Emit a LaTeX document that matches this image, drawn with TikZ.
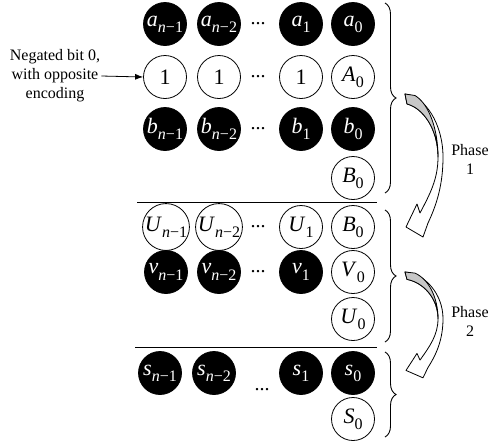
\documentclass[tikz,border=0pt]{standalone}
\usepackage{fontspec}
\setmainfont{Liberation Serif}
\usetikzlibrary{decorations.pathreplacing,arrows.meta}
\newcommand\lb[2]{\textit{#1}\raisebox{-0.28em}{\fontsize{16}{16}\selectfont #2}}
\newcommand\nm[1]{\textit{n}−#1}
\newcommand\phasearrow[1]{%
 \begin{scope}[#1]
  \draw[arrowline, fill=white] (0,0) .. controls (20,2) and (38,30) .. (38,63) .. controls (38,90) and (32,110) .. (23,129) -- (18,143) -- (1,133) -- (12,110) -- (15,119) .. controls (25,100) and (33,85) .. (33,63) .. controls (33,35) and (18,14) .. (2,10) -- cycle;
  \draw[arrowline, fill=black!22] (0,0) -- (10,1.5) .. controls (24,10) and (33,35) .. (33,63) .. controls (33,35) and (18,14) .. (2,10) -- cycle;
 \end{scope}}
\begin{document}
\begin{tikzpicture}[x=1pt,y=1pt,
  circ/.style={circle, minimum size=43pt, inner sep=0pt, draw, line width=0.8pt, font=\fontsize{22}{22}\selectfont},
  blk/.style={circ, fill=black, text=white},
  wht/.style={circ, fill=white},
  dotsnode/.style={inner sep=0pt, font=\fontsize{20}{20}\selectfont},
  txt/.style={align=center, font=\fontsize{16}{19}\selectfont, inner sep=1pt},
  bracestyle/.style={decorate, decoration={brace, amplitude=11pt}, line width=0.9pt},
  sepline/.style={line width=0.9pt},
  arrowline/.style={line width=0.8pt, line join=round}]
\useasboundingbox (0,0) rectangle (490,-445);
% block 1
\node[blk] (a1n) at (165,-24) {\lb{a}{\nm{1}}};
\node[blk] (a2n) at (219,-24) {\lb{a}{\nm{2}}};
\node[dotsnode] (ad) at (258,-24) {...};
\node[blk] (a1) at (301,-24) {\lb{a}{1}};
\node[blk] (a0) at (353,-24) {\lb{a}{0}};
\node[wht] (o1) at (165,-77) {1};
\node[wht] (o2) at (219,-77) {1};
\node[dotsnode] (od) at (258,-77) {...};
\node[wht] (o3) at (301,-77) {1};
\node[wht] (A0) at (353,-77) {\lb{A}{0}};
\node[blk] (b1n) at (165,-129) {\lb{b}{\nm{1}}};
\node[blk] (b2n) at (219,-129) {\lb{b}{\nm{2}}};
\node[dotsnode] (bd) at (258,-129) {...};
\node[blk] (b1) at (301,-129) {\lb{b}{1}};
\node[blk] (b0) at (353,-129) {\lb{b}{0}};
\node[wht] (B0) at (353,-178) {\lb{B}{0}};
\node[txt] (note) at (55,-76) {Negated bit 0,\\with opposite\\encoding};
\draw[-{Latex[length=8pt,width=6pt]}, line width=0.8pt] (note.east) -- (o1.west);
\coordinate (l1a) at (137,-202); \coordinate (l1b) at (377,-202);
\draw[sepline] (l1a) -- (l1b);
% block 2
\node[wht] (U1n) at (166,-227) {\lb{U}{\nm{1}}};
\node[wht] (U2n) at (219,-227) {\lb{U}{\nm{2}}};
\node[dotsnode] (ud) at (258,-227) {...};
\node[wht] (U1) at (301,-227) {\lb{U}{1}};
\node[wht] (B0b) at (353,-227) {\lb{B}{0}};
\node[blk] (v1n) at (166,-272) {\lb{v}{\nm{1}}};
\node[blk] (v2n) at (219,-272) {\lb{v}{\nm{2}}};
\node[dotsnode] (vd) at (258,-272) {...};
\node[blk] (v1) at (301,-272) {\lb{v}{1}};
\node[wht] (V0) at (353,-272) {\lb{V}{0}};
\node[wht] (U0) at (353,-319) {\lb{U}{0}};
\coordinate (l2a) at (135,-347); \coordinate (l2b) at (377,-347);
\draw[sepline] (l2a) -- (l2b);
% block 3
\node[blk] (s1n) at (160,-373) {\lb{s}{\nm{1}}};
\node[blk] (s2n) at (214,-373) {\lb{s}{\nm{2}}};
\node[dotsnode] (sd) at (262,-390) {...};
\node[blk] (s1) at (301,-373) {\lb{s}{1}};
\node[blk] (s0) at (353,-373) {\lb{s}{0}};
\node[wht] (S0) at (353,-419) {\lb{S}{0}};
% braces
\coordinate (br1a) at (385,-3); \coordinate (br1b) at (385,-193);
\coordinate (br2a) at (385,-210); \coordinate (br2b) at (385,-342);
\coordinate (br3a) at (385,-352); \coordinate (br3b) at (385,-437);
\draw[bracestyle] (br1a) -- (br1b);
\draw[bracestyle] (br2a) -- (br2b);
\draw[bracestyle] (br3a) -- (br3b);
% phase arrows
\phasearrow{shift={(405,-94)}, yscale=-1}
\phasearrow{shift={(405,-272)}, yscale=-0.74}
\node[txt] (ph1) at (470,-159) {Phase\\1};
\node[txt] (ph2) at (470,-321) {Phase\\2};
\end{tikzpicture}
\end{document}
